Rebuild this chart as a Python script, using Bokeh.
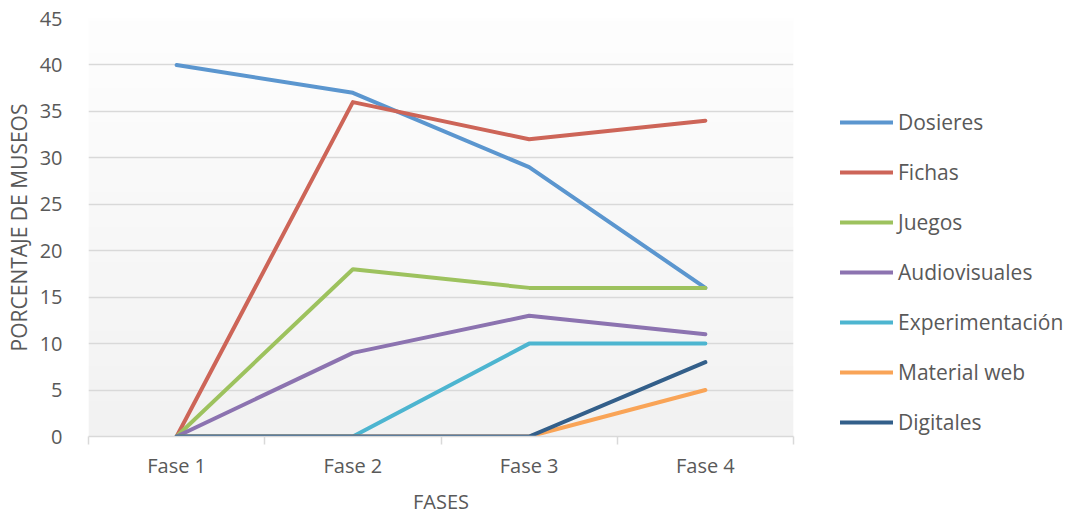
import numpy as np
from bokeh.plotting import figure
from bokeh.models import Range1d, FixedTicker, Legend, LegendItem
from bokeh.embed import file_html
from bokeh.resources import INLINE

fases = ["Fase 1", "Fase 2", "Fase 3", "Fase 4"]
dosieres = [40, 37, 29, 16]
fichas = [0, 36, 32, 34]
juegos = [0, 18, 16, 16]
audiovisuales = [0, 9, 13, 11]
experimentacion = [0, 0, 10, 10]
material_web = [0, 0, 0, 5]
digitales = [0, 0, 0, 8]

series = [
    ("Dosieres", dosieres, "#5B96CF"),
    ("Fichas", fichas, "#CD6558"),
    ("Juegos", juegos, "#9DC25E"),
    ("Audiovisuales", audiovisuales, "#8C73B0"),
    ("Experimentación", experimentacion, "#4DB5D0"),
    ("Material web", material_web, "#F9A457"),
    ("Digitales", digitales, "#335F8A"),
]

FONT = "Open Sans"
TXT = "#595959"

xpos = [i + 0.5 for i in range(len(fases))]

p = figure(frame_width=705, frame_height=418, output_backend="svg", toolbar_location=None,
           x_range=Range1d(0, len(fases)), y_range=Range1d(0, 45))
p.min_border_left = 88
p.min_border_right = 256
p.min_border_top = 18
p.min_border_bottom = 70
p.outline_line_color = None
p.background_fill_color = "white"

# subtle vertical gradient background
n = 120
shade = np.linspace(242, 254, n)
img = np.zeros((n, 1), dtype=np.uint32)
view = img.view(dtype=np.uint8).reshape((n, 1, 4))
view[:, 0, 0] = shade
view[:, 0, 1] = shade
view[:, 0, 2] = shade
view[:, 0, 3] = 255
p.image_rgba(image=[img], x=0, y=0, dw=len(fases), dh=45, level="image")

p.xgrid.grid_line_color = None
p.ygrid.grid_line_color = "#d9d9d9"
p.ygrid.grid_line_width = 1.5
p.ygrid.ticker = FixedTicker(ticks=list(range(0, 46, 5)))

# x axis
p.xaxis.ticker = FixedTicker(ticks=xpos, minor_ticks=list(range(0, len(fases) + 1)))
p.xaxis.major_label_overrides = {x: f for x, f in zip(xpos, fases)}
p.xaxis.major_tick_out = 0
p.xaxis.major_tick_in = 0
p.xaxis.minor_tick_out = 8
p.xaxis.minor_tick_in = 0
p.xaxis.minor_tick_line_color = "#d9d9d9"
p.xaxis.minor_tick_line_width = 1.5
p.xaxis.axis_line_color = "#d9d9d9"
p.xaxis.axis_line_width = 1.5
p.xaxis.major_label_standoff = 7
p.xaxis.axis_label = "FASES"
p.xaxis.axis_label_standoff = 6

# y axis
p.yaxis.ticker = FixedTicker(ticks=list(range(0, 46, 5)))
p.yaxis.axis_line_color = None
p.yaxis.major_tick_line_color = None
p.yaxis.minor_tick_line_color = None
p.yaxis.major_label_standoff = 20
p.yaxis.axis_label = "PORCENTAJE DE MUSEOS"
p.yaxis.axis_label_standoff = 4

for ax in (p.xaxis, p.yaxis):
    ax.major_label_text_font = FONT
    ax.major_label_text_font_size = "20px"
    ax.major_label_text_color = TXT
    ax.axis_label_text_font = FONT
    ax.axis_label_text_font_size = "20px"
    ax.axis_label_text_font_style = "normal"
    ax.axis_label_text_color = TXT
p.yaxis.axis_label_text_font_size = "21px"

items = []
for name, vals, col in series:
    r = p.line(xpos, vals, line_color=col, line_width=4, line_join="round", line_cap="round")
    items.append(LegendItem(label=name, renderers=[r]))

legend = Legend(items=items, location=(47, 0))
legend.glyph_width = 53
legend.glyph_height = 20
legend.spacing = 22
legend.label_standoff = 5
legend.padding = 0
legend.margin = 0
legend.border_line_color = None
legend.background_fill_alpha = 0
legend.label_text_font = FONT
legend.label_text_font_size = "21px"
legend.label_text_color = TXT
legend.label_height = 20
p.add_layout(legend, "right")

open("out.html", "w").write(file_html(p, INLINE))
